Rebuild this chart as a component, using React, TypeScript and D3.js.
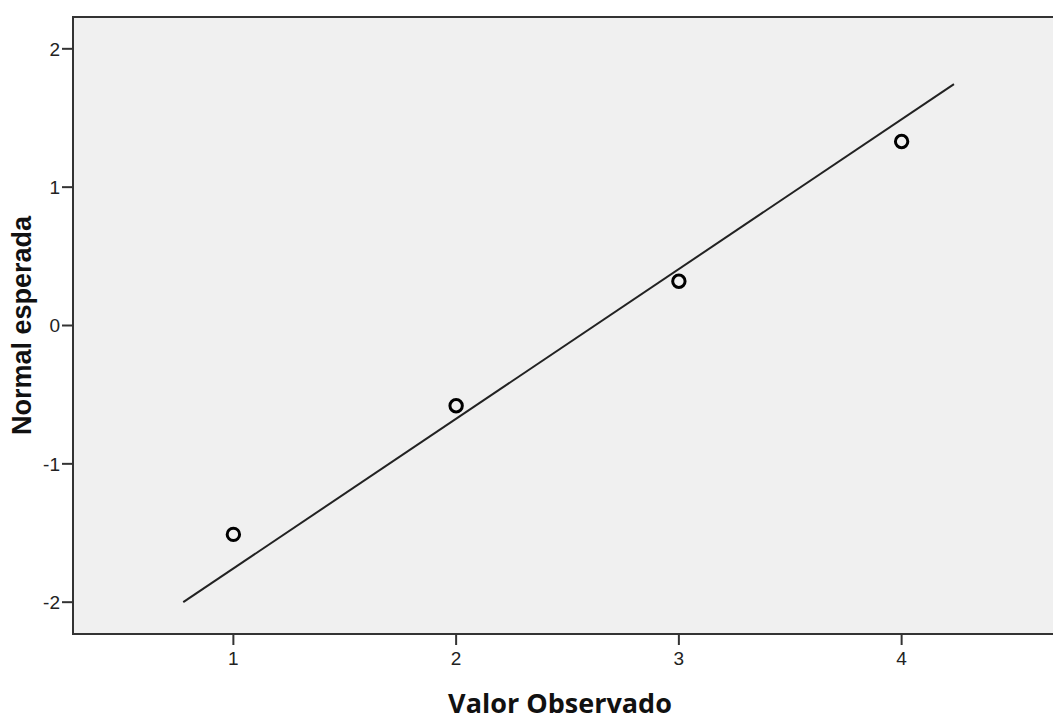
import React from 'react'
import * as d3 from 'd3'

// observed values and their expected normal values
const observed = [1, 2, 3, 4]
const expected = [-1.51, -0.58, 0.32, 1.33]

// reference line end points (observed, expected)
const refLineX = [0.775, 4.235]
const refLineY = [-2.0, 1.745]

const xTicks = [1, 2, 3, 4]
const yTicks = [-2, -1, 0, 1, 2]

const width = 1053
const height = 716
const plot = { left: 73, top: 17, bottom: 634 }

const xScale = d3.scaleLinear().domain([0.28, 4.72]).range([plot.left, 1062])
const yScale = d3.scaleLinear().domain([-2.23, 2.23]).range([plot.bottom, plot.top])

const tickLen = 11
const axisColor = '#333'
const tickFont = '"Liberation Sans", Arial, sans-serif'

export default function App() {
  const line = d3
    .line<number>()
    .x((d) => xScale(d))
    .y((d, i) => yScale(refLineY[i]))

  return (
    <svg width={width} height={height} style={{ position: 'absolute', left: 0, top: 0 }}>
      <rect x={0} y={0} width={width} height={height} fill="#fff" />
      <rect
        x={plot.left}
        y={plot.top}
        width={xScale.range()[1] - plot.left}
        height={plot.bottom - plot.top}
        fill="#f0f0f0"
        stroke={axisColor}
        strokeWidth={2}
      />

      {yTicks.map((t) => (
        <g key={'y' + t}>
          <line
            x1={plot.left - tickLen}
            x2={plot.left}
            y1={yScale(t)}
            y2={yScale(t)}
            stroke={axisColor}
            strokeWidth={2}
          />
          <text
            x={plot.left - tickLen - 2}
            y={yScale(t)}
            dy="0.36em"
            textAnchor="end"
            fontFamily={tickFont}
            fontSize={19}
            fill="#222"
          >
            {t}
          </text>
        </g>
      ))}

      {xTicks.map((t) => (
        <g key={'x' + t}>
          <line
            x1={xScale(t)}
            x2={xScale(t)}
            y1={plot.bottom}
            y2={plot.bottom + tickLen}
            stroke={axisColor}
            strokeWidth={2}
          />
          <text
            x={xScale(t)}
            y={665}
            textAnchor="middle"
            fontFamily={tickFont}
            fontSize={19}
            fill="#222"
          >
            {t}
          </text>
        </g>
      ))}

      <path d={line(refLineX) ?? ''} fill="none" stroke="#222" strokeWidth={2} />

      {observed.map((o, i) => (
        <circle
          key={o}
          cx={xScale(o)}
          cy={yScale(expected[i])}
          r={6.2}
          fill="none"
          stroke="#000"
          strokeWidth={3}
        />
      ))}

      <text
        x={560}
        y={713}
        textAnchor="middle"
        fontFamily='"Open Sans", sans-serif'
        fontWeight="bold"
        fontSize={27}
        fill="#111"
      >
        Valor Observado
      </text>
      <text
        transform={`translate(31, ${(plot.top + plot.bottom) / 2}) rotate(-90)`}
        textAnchor="middle"
        fontFamily='"Liberation Sans", Arial, sans-serif'
        fontWeight="bold"
        fontSize={27}
        fill="#111"
      >
        Normal esperada
      </text>
    </svg>
  )
}
